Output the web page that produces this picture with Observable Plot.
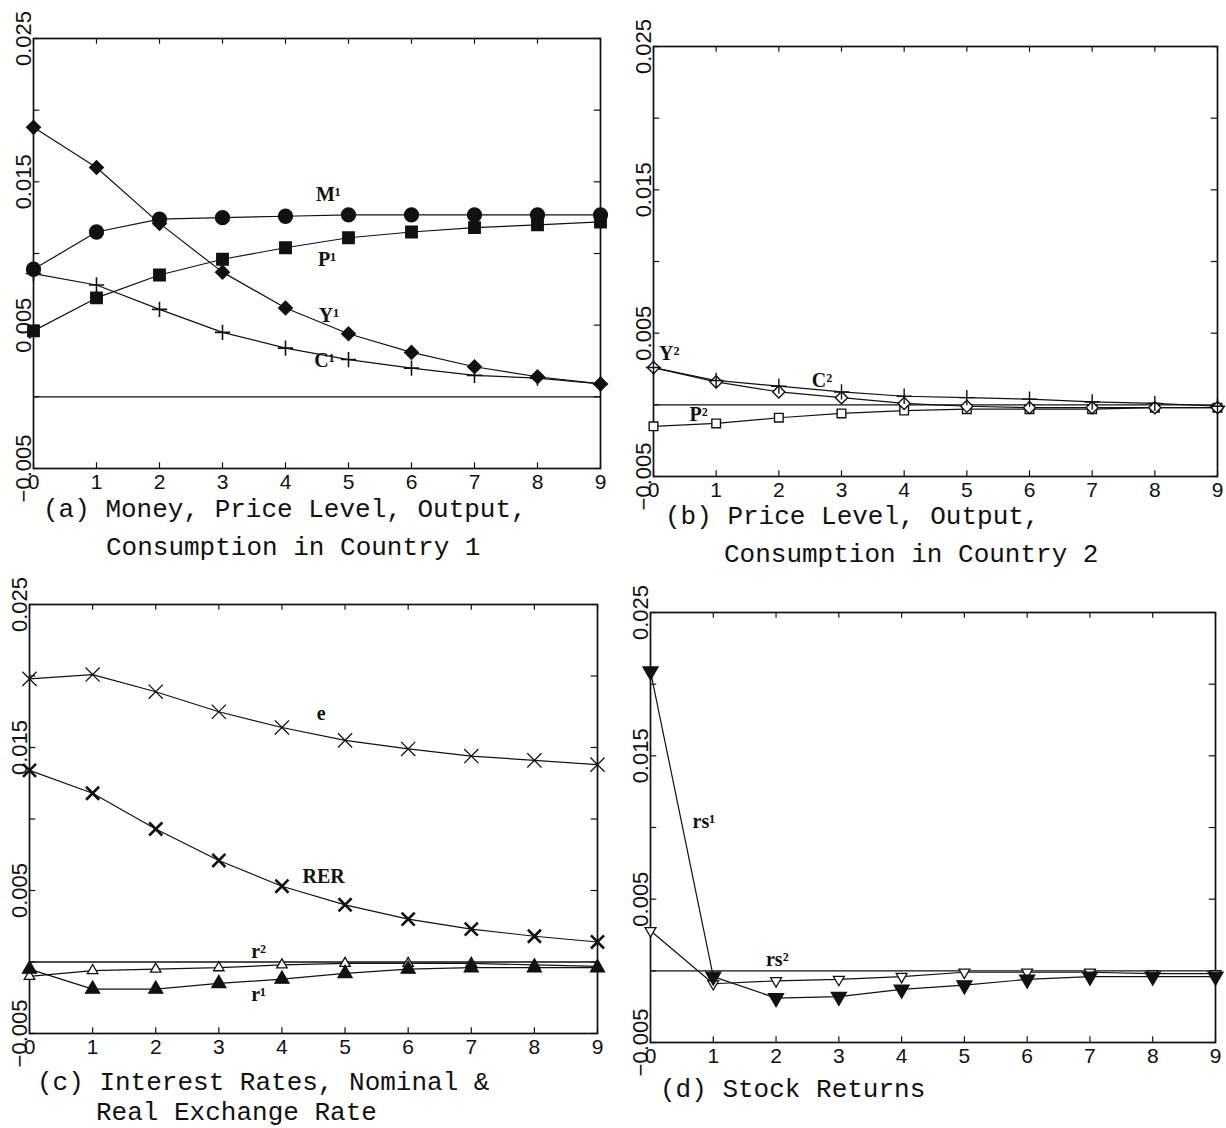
<!DOCTYPE html>
<html><head><meta charset="utf-8">
<script src="https://cdn.jsdelivr.net/npm/d3@7"></script>
<script src="https://cdn.jsdelivr.net/npm/@observablehq/plot@0.6"></script>
<style>
body{margin:0;background:#fff;}
#root{position:relative;width:1226px;height:1128px;overflow:hidden;background:#fff;}
.panel{position:absolute;}
.cap{position:absolute;font-family:"Liberation Mono","DejaVu Sans Mono",monospace;font-size:26px;line-height:28px;white-space:pre;color:#111;}
</style></head><body><div id="root"></div>
<script>
// ---- data ----
const periods = [0, 1, 2, 3, 4, 5, 6, 7, 8, 9];
const yTicks = [-0.005, 0, 0.005, 0.01, 0.015, 0.02, 0.025];
const yLabelTicks = [-0.005, 0.005, 0.015, 0.025];

// (a) Country 1
const M1 = [0.0089, 0.0115, 0.0124, 0.0125, 0.0126, 0.0127, 0.0127, 0.0127, 0.0127, 0.0127];
const P1 = [0.0046, 0.0069, 0.0085, 0.0096, 0.0104, 0.0111, 0.0115, 0.0118, 0.0120, 0.0122];
const Y1 = [0.0188, 0.0160, 0.0121, 0.0087, 0.0062, 0.0044, 0.0031, 0.0021, 0.0014, 0.0009];
const C1 = [0.0086, 0.0078, 0.0061, 0.0045, 0.0034, 0.0026, 0.0020, 0.0015, 0.0013, 0.0009];
// (b) Country 2
const Y2 = [0.0026, 0.0016, 0.0009, 0.0005, 0.0001, -0.0001, -0.0002, -0.0002, -0.0002, -0.0002];
const C2 = [0.0026, 0.0017, 0.0013, 0.0009, 0.0006, 0.0005, 0.0004, 0.0002, 0.0001, -0.0001];
const P2 = [-0.0015, -0.0013, -0.0009, -0.0006, -0.0004, -0.0003, -0.0003, -0.0003, -0.0002, -0.0002];
// (c) Interest rates and exchange rates
const E = [0.0198, 0.0201, 0.0189, 0.0175, 0.0164, 0.0155, 0.0149, 0.0144, 0.0141, 0.0138];
const RER = [0.0134, 0.0118, 0.0093, 0.0071, 0.0053, 0.0040, 0.0030, 0.0023, 0.0018, 0.0014];
const R2 = [-0.0010, -0.0006, -0.0005, -0.0004, -0.0002, -0.0001, -0.0001, -0.0001, -0.0002, -0.0003];
const R1 = [-0.0005, -0.0019, -0.0019, -0.0015, -0.0012, -0.0008, -0.0005, -0.0004, -0.0004, -0.0004];
// (d) Stock returns
const RS1 = [0.0209, -0.0004, -0.0019, -0.0018, -0.0013, -0.0010, -0.0006, -0.0004, -0.0004, -0.0004];
const RS2 = [0.0028, -0.0009, -0.0007, -0.0006, -0.0004, -0.0001, -0.0001, -0.0001, -0.0002, -0.0002];

// series labels (text + anchor in data units)
const labelsA = [{name: "M¹", t: 4.68, v: 0.0141}, {name: "P¹", t: 4.66, v: 0.0096}, {name: "Y¹", t: 4.69, v: 0.0057}, {name: "C¹", t: 4.62, v: 0.0025}];
const labelsB = [{name: "Y²", t: 0.25, v: 0.0036}, {name: "C²", t: 2.69, v: 0.0017}, {name: "P²", t: 0.72, v: -0.0007}];
const labelsC = [{name: "e", t: 4.62, v: 0.0174}, {name: "RER", t: 4.66, v: 0.0060}, {name: "r²", t: 3.63, v: 0.0007}, {name: "r¹", t: 3.63, v: -0.0023}];
const labelsD = [{name: "rs¹", t: 0.85, v: 0.0104}, {name: "rs²", t: 2.02, v: 0.0008}];

const captions = [
  {text: "(a) Money, Price Level, Output,", left: 43, top: 496},
  {text: "Consumption in Country 1", left: 106, top: 534},
  {text: "(b) Price Level, Output,", left: 665, top: 503},
  {text: "Consumption in Country 2", left: 724, top: 541},
  {text: "(c) Interest Rates, Nominal &", left: 37, top: 1069},
  {text: "Real Exchange Rate", left: 96, top: 1099},
  {text: "(d) Stock Returns", left: 660, top: 1076}
];

// ---- drawing ----
const ink = "#111";
const fmt = d3.format(".3f");

function panel(cfg) {
  const marks = [
    Plot.ruleY([0], {stroke: ink, strokeWidth: 1.4}),
    Plot.ruleY(yTicks, {y: d => d, x1: 0, x2: 0.1, stroke: ink, strokeWidth: 1.2}),
    Plot.ruleY(yTicks, {y: d => d, x1: 8.9, x2: 9, stroke: ink, strokeWidth: 1.2}),
    Plot.ruleX(periods, {x: d => d, y1: -0.005, y2: -0.0046, stroke: ink, strokeWidth: 1.2}),
    Plot.ruleX(periods, {x: d => d, y1: 0.0246, y2: 0.025, stroke: ink, strokeWidth: 1.2}),
    Plot.axisY({ticks: yLabelTicks, label: null, tickSize: 0, tickPadding: 3, tickRotate: -90, tickFormat: fmt, fill: ink, fontSize: 22}),
    Plot.axisX({ticks: periods, label: null, tickSize: 0, tickPadding: 6, tickFormat: d => String(d), fill: ink, fontSize: 21}),
    Plot.frame({stroke: ink, strokeWidth: 1.7})
  ];
  const tables = cfg.series.map(s => periods.map((t, i) => ({t, v: s.values[i]})));
  tables.forEach(rows => marks.push(Plot.line(rows, {x: "t", y: "v", stroke: ink, strokeWidth: 1.2})));
  cfg.series.forEach((s, k) => marks.push(Plot.dot(tables[k], {
    x: "t", y: "v", symbol: s.symbol, r: s.r, fill: s.fill, stroke: ink,
    strokeWidth: s.sw ?? 1.3, rotate: s.rotate ?? 0
  })));
  marks.push(Plot.text(cfg.labels, {x: "t", y: "v", text: "name", fontFamily: "Liberation Serif", fontWeight: "bold", fontSize: 20, fill: ink}));
  const svg = Plot.plot({
    width: cfg.width, height: cfg.height,
    marginLeft: cfg.ml, marginRight: cfg.mr, marginTop: cfg.mt, marginBottom: cfg.mb,
    x: {domain: [0, 9], axis: null, label: null},
    y: {domain: [-0.005, 0.025], axis: null, label: null},
    style: {fontFamily: "Liberation Sans, Arial, sans-serif", fontSize: "20px", color: ink, background: "transparent", overflow: "visible"},
    marks
  });
  svg.classList.add("panel");
  svg.style.left = cfg.left + "px";
  svg.style.top = cfg.top + "px";
  return svg;
}

const root = document.getElementById("root");
root.appendChild(panel({
  left: 0, top: 0, width: 610, height: 500, ml: 33, mr: 10, mt: 38, mb: 32,
  series: [
    {values: M1, symbol: "circle", r: 7, fill: ink},
    {values: P1, symbol: "square", r: 6.5, fill: ink},
    {values: Y1, symbol: "diamond2", r: 6.2, fill: ink},
    {values: C1, symbol: "plus", r: 5, fill: "none", sw: 1.6}
  ],
  labels: labelsA
}));
root.appendChild(panel({
  left: 618, top: 0, width: 608, height: 510, ml: 35, mr: 9, mt: 46, mb: 34,
  series: [
    {values: P2, symbol: "square2", r: 5.5, fill: "white", sw: 1.4},
    {values: Y2, symbol: "diamond2", r: 5.5, fill: "white", sw: 1.4},
    {values: C2, symbol: "plus", r: 5, fill: "none", sw: 1.4}
  ],
  labels: labelsB
}));
root.appendChild(panel({
  left: 0, top: 560, width: 610, height: 510, ml: 29, mr: 13, mt: 44, mb: 37,
  series: [
    {values: E, symbol: "times", r: 6.5, fill: "none", sw: 1.3},
    {values: RER, symbol: "times", r: 6, fill: "none", sw: 2.6},
    {values: R2, symbol: "triangle2", r: 5, fill: "white", sw: 1.3},
    {values: R1, symbol: "triangle", r: 5.2, fill: ink}
  ],
  labels: labelsC
}));
root.appendChild(panel({
  left: 618, top: 560, width: 608, height: 520, ml: 32, mr: 11, mt: 52, mb: 38,
  series: [
    {values: RS2, symbol: "triangle2", r: 5.2, fill: "white", sw: 1.3, rotate: 180},
    {values: RS1, symbol: "triangle", r: 5.6, fill: ink, rotate: 180}
  ],
  labels: labelsD
}));

for (const c of captions) {
  const div = document.createElement("div");
  div.className = "cap";
  div.textContent = c.text;
  div.style.left = c.left + "px";
  div.style.top = c.top + "px";
  root.appendChild(div);
}
</script>
</body></html>
